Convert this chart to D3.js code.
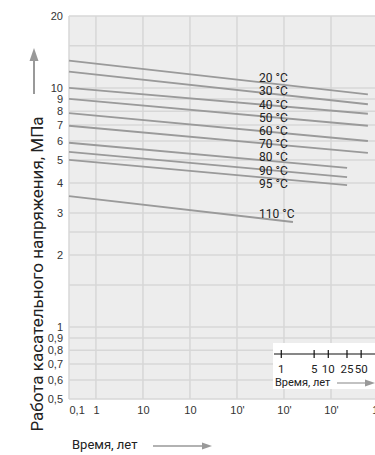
<!DOCTYPE html>
<html>
<head>
<meta charset="utf-8">
<script src="https://cdn.jsdelivr.net/npm/d3@7"></script>
<style>
  body { margin: 0; background: #fff; }
  svg { display: block; font-family: Roboto, "DejaVu Sans", sans-serif; }
</style>
</head>
<body>
<svg id="chart" width="375" height="455"></svg>
<script>
// temperature curves: stress (MPa) at start and end of each line, time in hours
var temps = ["20 °C", "30 °C", "40 °C", "50 °C", "60 °C", "70 °C", "80 °C", "90 °C", "95 °C", "110 °C"];
var startStress = [13.0, 11.7, 10.0, 9.0, 7.85, 6.95, 5.9, 5.4, 5.0, 3.53];
var endStress = [9.4, 8.55, 7.8, 6.95, 6.0, 5.35, 4.63, 4.24, 3.92, 2.75];
var endHours = [6.1e5, 6.1e5, 6.1e5, 6.1e5, 6.1e5, 6.1e5, 2.2e5, 2.2e5, 2.2e5, 1.55e4];
var startHours = 0.267;

var xTickValues = [0.267, 1, 10, 100, 1e3, 1e4, 1e5, 1e6];
var xTickLabels = ["0,1", "1", "10", "10", "10'", "10'", "10'", "10"];
var yTickValues = [20, 10, 9, 8, 7, 6, 5, 4, 3, 2, 1, 0.9, 0.8, 0.7, 0.6, 0.5];
var yTickLabels = ["20", "10", "9", "8", "7", "6", "5", "4", "3", "2", "1", "0,9", "0,8", "0,7", "0,6", "0,5"];
var yGrid = [0.5, 0.6, 0.7, 0.8, 0.9, 1, 1.5, 2, 2.5, 3, 4, 5, 6, 7, 8, 9, 10, 15, 20];
var xGrid = [1, 10, 100, 1e3, 1e4, 1e5, 1e6];

// inset: service life in years
var years = [1, 5, 10, 25, 50];

var svg = d3.select("#chart");
var plot = {left: 69, top: 16, bottom: 399};

var x = d3.scaleLog().domain([0.267, 1e7]).range([plot.left, 425]);
var y = d3.scaleLog().domain([0.5, 20]).range([plot.bottom, plot.top]);

svg.append("rect")
    .attr("x", plot.left).attr("y", plot.top)
    .attr("width", 375 - plot.left).attr("height", plot.bottom - plot.top)
    .attr("fill", "#ededed");

var grid = svg.append("g").attr("stroke", "#d7d7d7").attr("stroke-width", 1.5);
grid.selectAll(".h").data(yGrid).join("line")
    .attr("x1", plot.left).attr("x2", 375)
    .attr("y1", d => y(d)).attr("y2", d => y(d));
grid.selectAll(".v").data(xGrid).join("line")
    .attr("y1", plot.top).attr("y2", plot.bottom)
    .attr("x1", d => x(d)).attr("x2", d => x(d));
grid.append("line")
    .attr("x1", plot.left).attr("x2", plot.left)
    .attr("y1", plot.top).attr("y2", plot.bottom);

// curves
var line = d3.line().x(d => x(d[0])).y(d => y(d[1]));
svg.append("g").selectAll("path").data(temps).join("path")
    .attr("d", (d, i) => line([[startHours, startStress[i]], [endHours[i], endStress[i]]]))
    .attr("fill", "none").attr("stroke", "#9a9a9a").attr("stroke-width", 1.8);

// curve labels
var labelX = 259;
var firstY = d3.interpolate(y(startStress[0]), y(endStress[0]))((labelX - x(startHours)) / (x(endHours[0]) - x(startHours)));
var last = temps.length - 1;
var lastY = d3.interpolate(y(startStress[last]), y(endStress[last]))((labelX - x(startHours)) / (x(endHours[last]) - x(startHours)));
svg.append("g").selectAll("text").data(temps).join("text")
    .attr("x", labelX)
    .attr("y", (d, i) => i == last ? lastY : firstY + i * 13.2)
    .attr("font-size", 12).attr("fill", "#222")
    .text(d => d);

// axes
var xAxis = svg.append("g")
    .attr("transform", "translate(0," + plot.bottom + ")")
    .call(d3.axisBottom(x).tickValues(xTickValues).tickFormat((d, i) => xTickLabels[i]).tickSize(0).tickPadding(7));
xAxis.select(".domain").remove();
xAxis.selectAll("text").attr("font-size", 11).attr("fill", "#333").attr("font-family", null);
xAxis.select(".tick text").attr("text-anchor", "start");

var yAxis = svg.append("g")
    .attr("transform", "translate(" + plot.left + ",0)")
    .call(d3.axisLeft(y).tickValues(yTickValues).tickFormat((d, i) => yTickLabels[i]).tickSize(0).tickPadding(6));
yAxis.select(".domain").remove();
yAxis.selectAll("text").attr("font-size", 11).attr("fill", "#333").attr("font-family", null);

// y title + arrow
svg.append("text")
    .attr("transform", "translate(43,274) rotate(-90)")
    .attr("text-anchor", "middle")
    .attr("font-size", 17).attr("fill", "#222")
    .text("Работа касательного напряжения, МПа");
svg.append("line").attr("x1", 34).attr("x2", 34).attr("y1", 94).attr("y2", 58)
    .attr("stroke", "#999").attr("stroke-width", 2);
svg.append("path").attr("d", "M34,48L38.5,61L29.5,61Z").attr("fill", "#999");

// x title + arrow
svg.append("text")
    .attr("x", 72).attr("y", 449)
    .attr("font-size", 13).attr("fill", "#222")
    .text("Время, лет");
svg.append("line").attr("x1", 153).attr("x2", 204).attr("y1", 446).attr("y2", 446)
    .attr("stroke", "#999").attr("stroke-width", 1.5);
svg.append("path").attr("d", "M212,446L202,442.5L202,449.5Z").attr("fill", "#999");

// inset with years
var inset = svg.append("g");
inset.append("rect").attr("x", 273).attr("y", 343).attr("width", 110).attr("height", 46).attr("fill", "#fff");
inset.append("line").attr("x1", 274).attr("x2", 375).attr("y1", 354).attr("y2", 354)
    .attr("stroke", "#111").attr("stroke-width", 1.2);
inset.selectAll(".tk").data(years).join("line")
    .attr("x1", d => x(d * 8760)).attr("x2", d => x(d * 8760))
    .attr("y1", 350).attr("y2", 358)
    .attr("stroke", "#111").attr("stroke-width", 1.2);
inset.selectAll(".lb").data(years).join("text")
    .attr("x", d => x(d * 8760)).attr("y", 373)
    .attr("text-anchor", "middle").attr("font-size", 11.5).attr("fill", "#222")
    .text(d => d);
inset.append("text").attr("x", 275).attr("y", 386)
    .attr("font-size", 11).attr("fill", "#222")
    .text("Время, лет");
inset.append("line").attr("x1", 337).attr("x2", 366).attr("y1", 383).attr("y2", 383)
    .attr("stroke", "#999").attr("stroke-width", 1.2);
inset.append("path").attr("d", "M375,383L365,379.5L365,386.5Z").attr("fill", "#999");
</script>
</body>
</html>
